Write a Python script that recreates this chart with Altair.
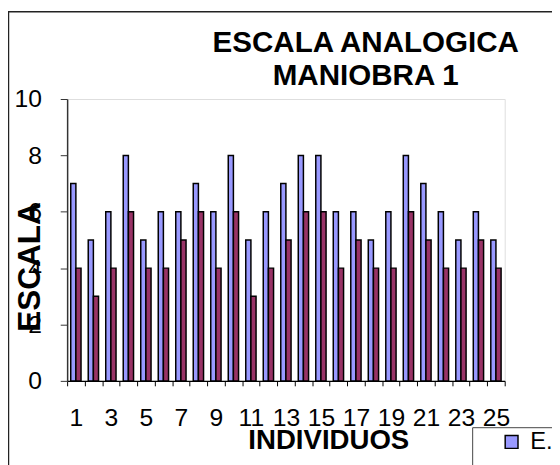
import altair as alt
import pandas as pd

# ---- data ----
individuos = list(range(1, 26))
serie_a = [7, 5, 6, 8, 5, 6, 6, 7, 6, 8, 5, 6, 7, 8, 8, 6, 6, 5, 6, 8, 7, 6, 5, 6, 5]
serie_b = [4, 3, 4, 6, 4, 4, 5, 6, 4, 6, 3, 4, 5, 6, 6, 4, 5, 4, 4, 6, 5, 4, 4, 5, 4]
series = ["E. PRE", "E. POST"]
colors = ["#9999FF", "#993366"]
y_ticks = [0, 2, 4, 6, 8, 10]
title_lines = ["ESCALA ANALOGICA", "MANIOBRA 1"]

rows = []
for i, a, b in zip(individuos, serie_a, serie_b):
    rows.append({"individuo": i, "serie": series[0], "valor": a})
    rows.append({"individuo": i, "serie": series[1], "valor": b})
df = pd.DataFrame(rows)

FONT = "Liberation Sans"
W, H = 444, 286

one = pd.DataFrame({"k": [0]})

# decorative outer chart border (top and left edges visible)
outer = alt.Chart(one).mark_rect(fillOpacity=0, stroke="#222222", strokeWidth=1.5).encode(
    x=alt.value(-59.5), x2=alt.value(700), y=alt.value(-88.5), y2=alt.value(600)
)
# decorative legend box border
legbox = alt.Chart(one).mark_rect(fillOpacity=0, stroke="#444444", strokeWidth=1).encode(
    x=alt.value(411.5), x2=alt.value(700), y=alt.value(333.5), y2=alt.value(600)
)

# chart title (two lines)
t1 = alt.Chart(one).mark_text(
    text=title_lines[0], font=FONT, fontSize=30, fontWeight="bold", color="black",
    align="center", baseline="alphabetic"
).encode(x=alt.value(303), y=alt.value(-48))
t2 = alt.Chart(one).mark_text(
    text=title_lines[1], font=FONT, fontSize=30, fontWeight="bold", color="black",
    align="center", baseline="alphabetic"
).encode(x=alt.value(303), y=alt.value(-14))

bars = alt.Chart(df).mark_bar(stroke="black", strokeWidth=1.5).encode(
    x=alt.X(
        "individuo:O",
        scale=alt.Scale(paddingInner=0, paddingOuter=0),
        axis=alt.Axis(
            title="INDIVIDUOS",
            labelAngle=0,
            tickBand="extent",
            labelOverlap=False,
            labelExpr="datum.value % 2 == 1 ? datum.label : ''",
            labelFontSize=25,
            labelFont=FONT,
            labelColor="black",
            labelBaseline="alphabetic",
            labelPadding=40,
            tickSize=5,
            tickColor="black",
            domainColor="black",
            domainWidth=1.5,
            titleFontSize=28,
            titleFont=FONT,
            titleFontWeight="bold",
            titleColor="black",
            titleX=265,
            titleY=69,
            titleAlign="center",
            titleBaseline="alphabetic",
            grid=False,
        ),
    ),
    xOffset=alt.XOffset("serie:N", sort=series, scale=alt.Scale(paddingOuter=0.7, paddingInner=0)),
    y=alt.Y(
        "valor:Q",
        scale=alt.Scale(domain=[0, 10], nice=False),
        axis=alt.Axis(
            values=y_ticks,
            title="ESCALA",
            labelFontSize=25,
            labelFont=FONT,
            labelColor="black",
            labelPadding=19,
            tickSize=7,
            tickColor="#333333",
            domainColor="#333333",
            domainWidth=1.5,
            titleFontSize=32,
            titleFont=FONT,
            titleFontWeight="bold",
            titleColor="black",
            titleAngle=270,
            titleX=-38,
            titleY=170,
            titleAlign="center",
            titleBaseline="middle",
            grid=False,
        ),
    ),
    color=alt.Color(
        "serie:N",
        sort=series,
        scale=alt.Scale(domain=series, range=colors),
        legend=alt.Legend(
            orient="none",
            legendX=439,
            legendY=336,
            title=None,
            symbolType="square",
            symbolSize=169,
            symbolStrokeColor="black",
            symbolStrokeWidth=1.5,
            symbolOpacity=1,
            labelFontSize=24,
            labelFont=FONT,
            labelColor="black",
            labelOffset=7,
            padding=0,
            rowPadding=40,
            direction="vertical",
        ),
    ),
)

chart = alt.layer(outer, legbox, t1, t2, bars).properties(
    width=W,
    height=H,
    padding={"left": 60, "top": 89, "right": 48, "bottom": 82},
    autosize=alt.AutoSizeParams(type="none"),
).configure_view(stroke="#808080", strokeWidth=1.5).configure(font=FONT, background="white")

chart.save("out.html", embed_options={"renderer": "svg", "actions": False})
